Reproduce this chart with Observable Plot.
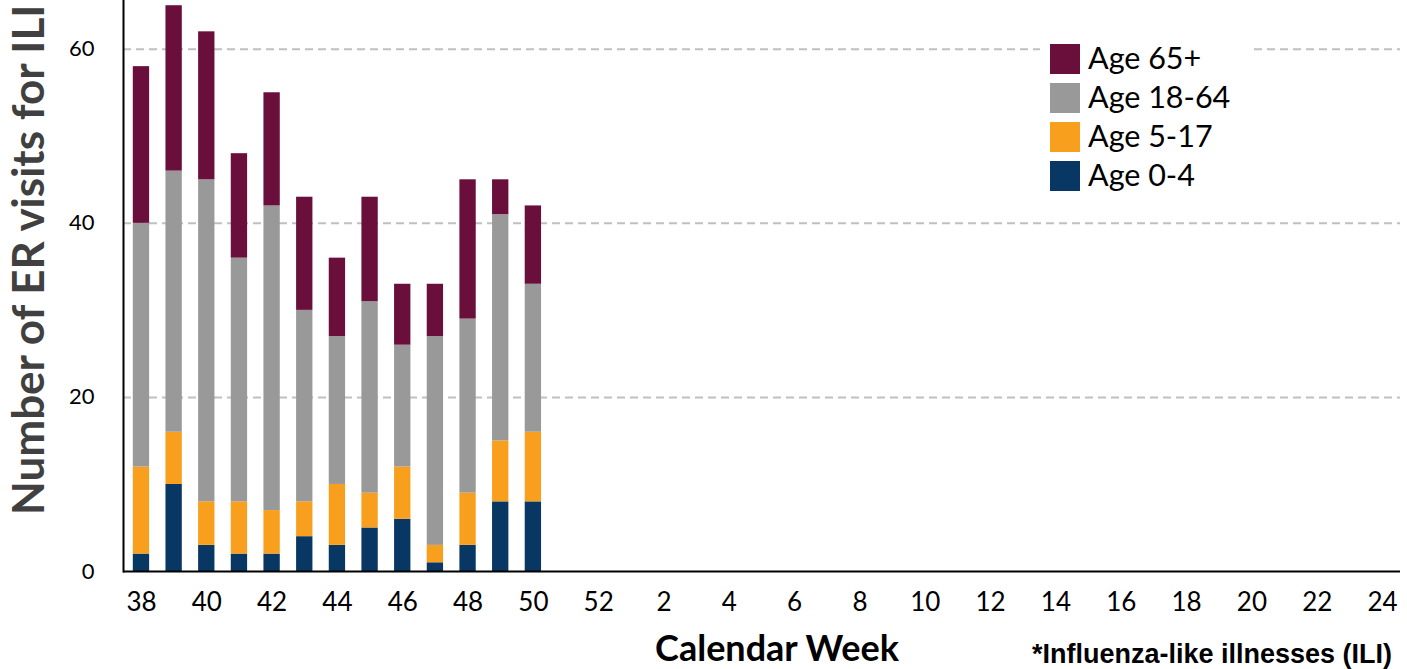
<!DOCTYPE html>
<html>
<head>
<meta charset="utf-8">
<script src="https://cdn.jsdelivr.net/npm/d3@7"></script>
<script src="https://cdn.jsdelivr.net/npm/@observablehq/plot@0.6"></script>
<style>
  html, body { margin: 0; padding: 0; background: #fff; }
  #chart { width: 1407px; height: 669px; overflow: hidden; }
</style>
</head>
<body>
<div id="chart"></div>
<script>
// Calendar weeks shown on the axis (season: week 38 through week 24)
const weeks = ["38","39","40","41","42","43","44","45","46","47","48","49","50","51","52",
  "1","2","3","4","5","6","7","8","9","10","11","12","13","14","15","16","17","18","19","20","21","22","23","24"];
const tickWeeks = ["38","40","42","44","46","48","50","52","2","4","6","8","10","12","14","16","18","20","22","24"];
// Weeks with reported data
const dataWeeks = ["38","39","40","41","42","43","44","45","46","47","48","49","50"];
// Series values (ER visits for ILI) by age group
const age0_4   = [2, 10, 3, 2, 2, 4, 3, 5, 6, 1, 3, 8, 8];
const age5_17  = [10, 6, 5, 6, 5, 4, 7, 4, 6, 2, 6, 7, 8];
const age18_64 = [28, 30, 37, 28, 35, 22, 17, 22, 14, 24, 20, 26, 17];
const age65    = [18, 19, 17, 12, 13, 13, 9, 12, 7, 6, 16, 4, 9];
const ageGroups = ["Age 0-4", "Age 5-17", "Age 18-64", "Age 65+"];
const ageColors = ["#093764", "#F99F1E", "#999999", "#6A0E3B"];
const yTicks = [0, 20, 40, 60];
const gridTicks = [20, 40, 60];

const series = [age0_4, age5_17, age18_64, age65];
const rows = [];
dataWeeks.forEach((w, i) => {
  ageGroups.forEach((g, j) => rows.push({week: w, age: g, count: series[j][i]}));
});

const font = "Lato, 'Noto Sans', sans-serif";

const chart = Plot.plot({
  width: 1407,
  height: 669,
  marginLeft: 123,
  marginRight: 7,
  marginTop: 0,
  marginBottom: 98,
  style: {fontFamily: font, background: "#fff", overflow: "visible"},
  x: {type: "band", domain: weeks, paddingInner: 0.5, paddingOuter: 0.3, round: false, label: null},
  y: {domain: [0, 65.6], label: null},
  color: {domain: ageGroups, range: ageColors},
  marks: [
    Plot.ruleY(gridTicks, {stroke: "#c0c0c0", strokeWidth: 2, strokeDasharray: "8,5"}),
    Plot.barY(rows, Plot.stackY({x: "week", y: "count", fill: "age", order: ageGroups})),
    Plot.axisX({ticks: tickWeeks, tickSize: 0, tickPadding: 21, fontSize: 26, fill: "#000", label: null}),
    Plot.axisY({ticks: yTicks, tickSize: 0, tickPadding: 29, fontSize: 22, fill: "#000", label: null}),
    Plot.ruleY([0], {stroke: "#000", strokeWidth: 2}),
    Plot.frame({anchor: "left", stroke: "#000", strokeWidth: 2})
  ]
});

document.getElementById("chart").appendChild(chart);

const svg = d3.select(chart);

// Legend with white backdrop over the gridline
const lg = svg.append("g").attr("class", "legend").attr("text-anchor", "start");
lg.append("rect").attr("x", 1040).attr("y", 38).attr("width", 212).attr("height", 160).attr("fill", "#fff");
const legendOrder = ["Age 65+", "Age 18-64", "Age 5-17", "Age 0-4"];
legendOrder.forEach((g, i) => {
  const y0 = 44 + i * 39;
  lg.append("rect").attr("x", 1050).attr("y", y0).attr("width", 30).attr("height", 30)
    .attr("fill", ageColors[ageGroups.indexOf(g)]);
  lg.append("text").attr("x", 1088).attr("y", y0 + 25).text(g)
    .attr("text-anchor", "start")
    .attr("font-family", font).attr("font-size", 30.5).attr("fill", "#000");
});

// Y axis title
svg.append("text")
  .attr("transform", "translate(44,515) rotate(-90)")
  .attr("text-anchor", "start")
  .attr("font-family", font).attr("font-weight", "bold").attr("font-size", 44)
  .attr("fill", "#404040")
  .text("Number of ER visits for ILI");

// X axis title
svg.append("text")
  .attr("x", 777).attr("y", 661)
  .attr("text-anchor", "middle")
  .attr("font-family", font).attr("font-weight", "bold").attr("font-size", 36)
  .attr("fill", "#000")
  .text("Calendar Week");

// Footnote
svg.append("text")
  .attr("x", 1032).attr("y", 663)
  .attr("text-anchor", "start")
  .attr("font-family", "'Liberation Sans', Arial, sans-serif").attr("font-weight", "bold").attr("font-size", 27)
  .attr("fill", "#000")
  .text("*Influenza-like illnesses (ILI)");
</script>
</body>
</html>
